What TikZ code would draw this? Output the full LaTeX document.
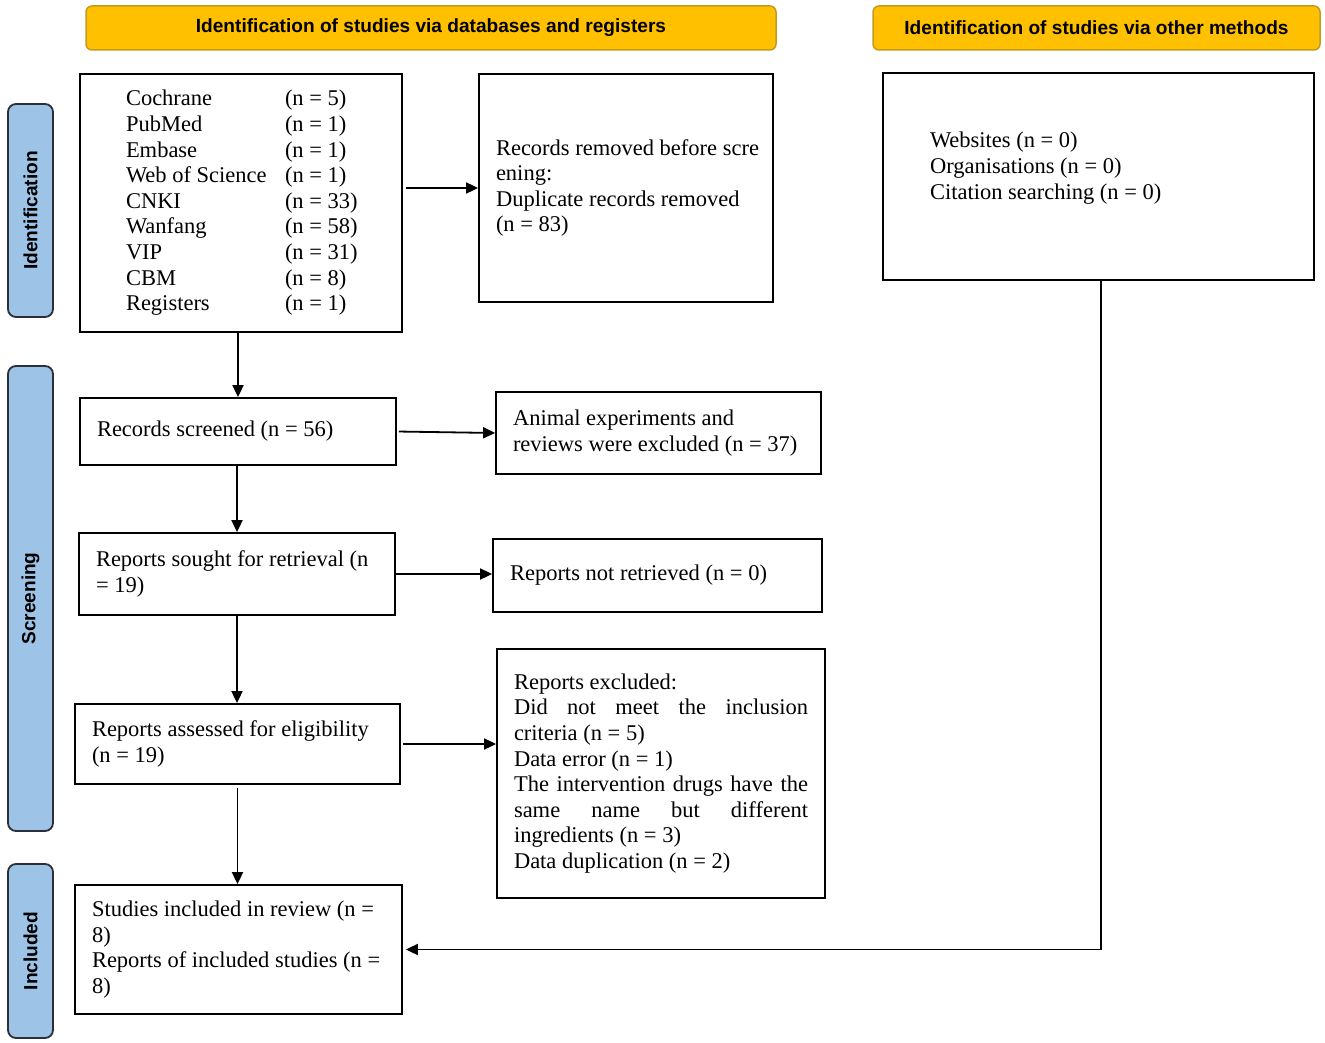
\documentclass[tikz,border=0pt]{standalone}
\usepackage{fontspec}
\setmainfont{Liberation Serif}
\setsansfont{Liberation Sans}
\usetikzlibrary{arrows.meta}
\definecolor{hdrfill}{HTML}{FFC000}
\definecolor{hdrline}{HTML}{C49A1C}
\definecolor{sidefill}{HTML}{9DC3E6}
\definecolor{sideline}{HTML}{2A2F38}
\newcommand{\tbody}{\fontsize{22.5}{25.6}\selectfont}
\newcommand{\thead}{\fontsize{19.1}{22}\selectfont\sffamily\bfseries}
\newcommand{\dbl}[2]{\makebox[230pt][l]{\makebox[159pt][l]{#1}#2}}
\newcommand{\jl}[1]{\makebox[294pt][s]{#1}}
\tikzset{
  bx/.style={draw, line width=1.8pt, align=flush left, inner ysep=0pt, font=\tbody},
  hdr/.style={draw=hdrline, fill=hdrfill, line width=1.5pt, rounded corners=6pt, font=\thead, minimum height=44pt},
  side/.style={draw=sideline, fill=sidefill, line width=1.8pt, rounded corners=8pt, font=\thead, rotate=90, minimum height=45pt},
  arr/.style={line width=1.8pt, -{Triangle[length=12pt,width=11pt]}}
}
\begin{document}
\begin{tikzpicture}[x=1pt,y=-1pt]
\useasboundingbox (0,0) rectangle (1325,1043);
% headers
\node[hdr, minimum width=690pt] (hdr1) at (431,28) {Identification of studies via databases and registers};
\node[hdr, minimum width=447pt] (hdr2) at (1096.5,28) {Identification of studies via other methods};
% side bars
\node[side, minimum width=213pt] (side1) at (30.5,210.5) {Identification};
\node[side, minimum width=465pt] (side2) at (30.5,598.5) {Screening};
\node[side, minimum width=174pt] (side3) at (30.5,951) {Included};
% boxes
\node[bx, minimum width=322pt, minimum height=258pt, text width=230pt, inner xsep=46pt] (db) at (241,203)
 {\dbl{Cochrane}{(n = 5)}\\ \dbl{PubMed}{(n = 1)}\\ \dbl{Embase}{(n = 1)}\\ \dbl{Web of Science}{(n = 1)}\\
  \dbl{CNKI}{(n = 33)}\\ \dbl{Wanfang}{(n = 58)}\\ \dbl{VIP}{(n = 31)}\\ \dbl{CBM}{(n = 8)}\\ \dbl{Registers}{(n = 1)}};
\node[bx, minimum width=294pt, minimum height=228pt, text width=260pt, inner xsep=17pt] (removed) at (626,188)
 {\mbox{Records removed before scre}\\ening:\\\mbox{Duplicate records removed}\\(n = 83)};
\node[bx, minimum width=431pt, minimum height=207pt, text width=337pt, inner xsep=47pt] (other) at (1098.5,176.5)
 {Websites (n = 0)\\Organisations (n = 0)\\\mbox{Citation searching (n = 0)}\\[-4pt]\mbox{}};
\node[bx, minimum width=316pt, minimum height=67pt, text width=282pt, inner xsep=17pt] (screened) at (238,431.5)
 {Records screened (n = 56)};
\node[bx, minimum width=325pt, minimum height=82pt, text width=291pt, inner xsep=17pt] (animal) at (658.5,433)
 {\mbox{Animal experiments and}\\\mbox{reviews were excluded (n = 37)}};
\node[bx, minimum width=316pt, minimum height=82pt, text width=282pt, inner xsep=17pt] (sought) at (237,574)
 {\mbox{Reports sought for retrieval (n}\\= 19)};
\node[bx, minimum width=329pt, minimum height=73pt, text width=295pt, inner xsep=17pt] (notret) at (657.5,575.5)
 {Reports not retrieved (n = 0)};
\node[bx, minimum width=325pt, minimum height=80pt, text width=291pt, inner xsep=17pt] (assessed) at (237.5,744)
 {\mbox{Reports assessed for eligibility}\\(n = 19)};
\node[bx, minimum width=328pt, minimum height=249pt, text width=294pt, inner xsep=17pt] (excluded) at (661,773.5)
 {Reports excluded:\\\jl{Did not meet the inclusion}\\criteria (n = 5)\\Data error (n = 1)\\
  \jl{The intervention drugs have the}\\\jl{same name but different}\\ingredients (n = 3)\\Data duplication (n = 2)};
\node[bx, minimum width=327pt, minimum height=129pt, text width=293pt, inner xsep=17pt] (included) at (238.5,949.5)
 {\mbox{Studies included in review (n =}\\8)\\\mbox{Reports of included studies (n =}\\8)};
% arrows
\draw[arr, shorten <=3pt] (db.east |- removed.west) -- (removed.west);
\draw[arr] (screened.north |- db.south) -- (screened.north);
\draw[arr, shorten <=2pt] (screened.east) -- (animal.west);
\draw[arr] (screened.south) -- (screened.south -| sought.north) -- (sought.north);
\draw[arr] (sought.east) -- (sought.east -| notret.west);
\draw[arr] (sought.south) -- (assessed.north -| sought.south);
\draw[arr, shorten <=2pt] (assessed.east) -- (assessed.east -| excluded.west);
\draw[arr, shorten <=3pt] (assessed.south) -- (assessed.south |- included.north);
\draw[arr, shorten >=3pt] ([xshift=2.5pt]other.south) |- (included.east);
\end{tikzpicture}
\end{document}
